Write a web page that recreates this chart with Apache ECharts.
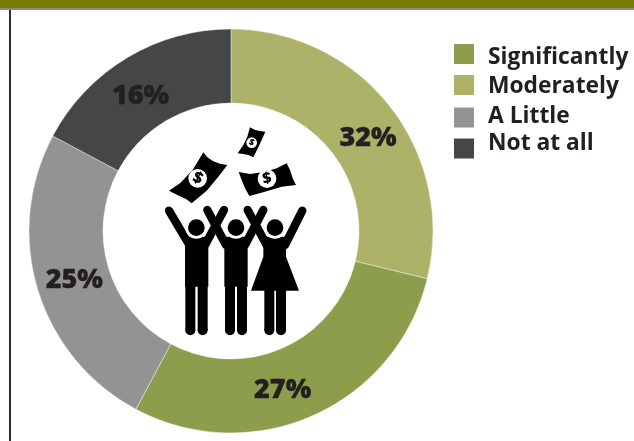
<!DOCTYPE html>
<html><head><meta charset="utf-8">
<style>html,body{margin:0;padding:0;background:#fff}#c{width:634px;height:441px}</style>
<script src="https://cdn.jsdelivr.net/npm/echarts@6/dist/echarts.min.js"></script>
</head><body><div id="c"></div>
<script>
const categories = ['Moderately','Significantly','A Little','Not at all'];
const legendOrder = ['Significantly','Moderately','A Little','Not at all'];
const sliceShares = [28.8, 29.0, 25.0, 17.2];
const labelTexts = ['32%','27%','25%','16%'];
const colors = ['#adb269','#8c9e4c','#939393','#454648'];
const labelNudges = [[5,11],[-17,6],[4,0],[-4,9]];
const legendTops = [44,75,105,132];
const legendRich = [
  {lineHeight:18,verticalAlign:'bottom'},
  {lineHeight:14,verticalAlign:'bottom'},
  {lineHeight:12,verticalAlign:'top'},
  {lineHeight:20,verticalAlign:'top'}
];

const S = { type:'group', x:150, y:120, scaleX:1/3, scaleY:1/3, silent:true, children:[] };
const K = '#000';
const add = e => { e.silent = true; S.children.push(e); };
const stroke = (x1,y1,x2,y2,w,cap) => add({type:'line',shape:{x1,y1,x2,y2},style:{stroke:K,lineWidth:w,lineCap:cap||'round'}});
const bill = (pts,cx,cy,r,rot,fs) => {
  add({type:'polygon',shape:{points:pts},style:{fill:K}});
  add({type:'circle',shape:{cx,cy,r},style:{fill:'#fff'}});
  add({type:'text',x:cx,y:cy,rotation:rot,style:{text:'$',fill:K,font:'800 '+fs+'px "Open Sans"',align:'center',verticalAlign:'middle'}});
};
bill([[160,97],[172,112],[190,124],[210,131],[232,135],[205,170],[170,212],[125,250],[108,237],[82,225],[57,212],[90,190],[128,150]],143,175,28,-0.45,48);
bill([[266,156],[300,162],[345,155],[380,145],[410,130],[420,150],[428,175],[438,195],[395,200],[345,215],[298,228],[285,205],[275,180]],351,176,28,0.15,46);
bill([[300,22],[315,30],[330,33],[346,35],[335,60],[322,88],[310,112],[295,105],[280,102],[263,100],[280,75],[292,50]],305,68,16,-0.45,26);
[[57,272,118,375],[222,270,165,375],[172,270,228,375],[340,270,285,375],[293,270,350,375],[457,272,405,375]]
  .forEach(a => stroke(a[0],a[1],a[2],a[3],25));
const torso = pts => add({type:'polygon',shape:{points:pts},style:{fill:K}});
torso([[105,350],[175,350],[175,500],[105,500]]);
torso([[223,350],[293,350],[293,500],[223,500]]);
torso([[340,350],[408,350],[408,410],[447,512],[303,512],[340,410]]);
[121,158,240,276,358,393].forEach(x => {
  stroke(x,490,x,631,30,'butt');
  add({type:'circle',shape:{cx:x,cy:631,r:15},style:{fill:K}});
});
[139,258,375].forEach(cx => {
  add({type:'circle',shape:{cx,cy:323,r:33},style:{fill:'#fff'}});
  add({type:'circle',shape:{cx,cy:323,r:25},style:{fill:K}});
});

const legendFont = {fontFamily:'Open Sans',fontSize:22.8,fontWeight:700,color:'#231f20',height:10};
const chart = echarts.init(document.getElementById('c'));
chart.setOption({
  animation:false,
  backgroundColor:'#fff',
  legend:legendOrder.map((name,i)=>({
    orient:'vertical', left:454, top:legendTops[i], padding:0, itemWidth:20, itemHeight:20, icon:'rect',
    itemStyle:{borderWidth:0},
    data:[name], selectedMode:false,
    formatter:'{r|{name}}',
    textStyle:{fontFamily:'Open Sans',fontSize:22.8,fontWeight:700,color:'#231f20',padding:[0,0,0,9],
      rich:{r:{...legendFont,...legendRich[i]}}}
  })),
  graphic:{elements:[
    {type:'rect',shape:{x:0,y:0,width:634,height:8},style:{fill:'#7a7c00'},silent:true},
    {type:'rect',shape:{x:0,y:8,width:634,height:2},style:{fill:'#8a8a8a'},silent:true},
    {type:'rect',shape:{x:9,y:10,width:2,height:431},style:{fill:'#2f2d2e'},silent:true},
    S
  ]},
  series:[{
    type:'pie', center:[231,231], radius:[128,202], startAngle:90, clockwise:true,
    itemStyle:{borderColor:'#fff',borderWidth:0.4},
    labelLine:{show:false}, emphasis:{disabled:true},
    data:categories.map((name,i)=>({
      name, value:sliceShares[i],
      itemStyle:{color:colors[i]},
      label:{show:true,position:'inside',formatter:labelTexts[i],offset:labelNudges[i],
        fontFamily:'Open Sans',fontSize:27,fontWeight:800,color:'#231f20',
        textBorderColor:'#231f20',textBorderWidth:0.3}
    }))
  }]
});
</script></body></html>
